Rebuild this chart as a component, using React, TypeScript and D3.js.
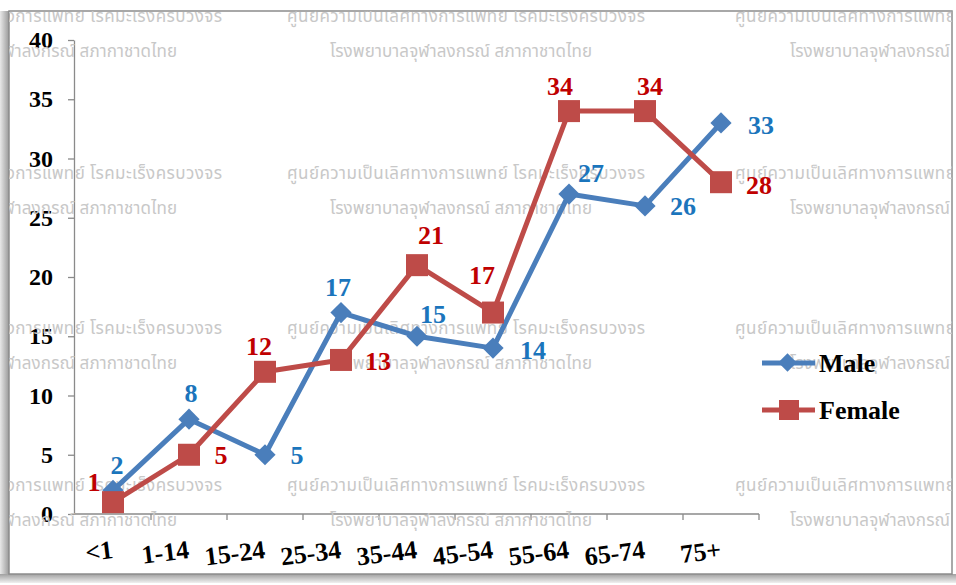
import { useEffect, useRef } from "react";
import * as d3 from "d3";

const categories = ["<1", "1-14", "15-24", "25-34", "35-44", "45-54", "55-64", "65-74", "75+"];
const maleValues = [2, 8, 5, 17, 15, 14, 27, 26, 33];
const femaleValues = [1, 5, 12, 13, 21, 17, 34, 34, 28];
const yTicks = [0, 5, 10, 15, 20, 25, 30, 35, 40];

// label offsets from the point (centre of text), as Excel placed them
const maleLabelOffsets = [[4, -25], [2, -26], [32, 1], [-3, -25], [16, -22], [40, 2], [22, -21], [38, 1], [40, 3]];
const femaleLabelOffsets = [[-19, -20], [32, 1], [-6, -25], [37, 2], [14, -30], [-11, -37], [-9, -25], [5, -25], [38, 3]];

const wmLine1 = "ศูนย์ความเป็นเลิศทางการแพทย์ โรคมะเร็งครบวงจร";
const wmLine2 = "โรงพยาบาลจุฬาลงกรณ์ สภากาชาดไทย";
const wmRows = [22, 179, 334, 491];

const W = 956;
const H = 585;
const MALE = "#4a7ebb";
const FEMALE = "#be4b48";
const MALE_TXT = "#1b75bc";
const FEMALE_TXT = "#c00000";
const FONT = "'Liberation Serif', 'Times New Roman', serif";

function YAxis({ scale, x }: { scale: d3.ScaleLinear<number, number>; x: number }) {
  const ref = useRef<SVGGElement>(null);
  useEffect(() => {
    if (!ref.current) return;
    const g = d3.select(ref.current);
    g.call(d3.axisLeft(scale).tickValues(yTicks).tickSize(6).tickPadding(15).tickSizeOuter(0));
    g.select(".domain").attr("stroke", "#8a8a8a").attr("stroke-width", 1.3);
    g.selectAll(".tick line").attr("stroke", "#8a8a8a").attr("stroke-width", 1.3);
    g.selectAll(".tick text")
      .attr("font-family", FONT)
      .attr("font-weight", "bold")
      .attr("font-size", 24)
      .attr("fill", "#000");
  }, [scale]);
  return <g ref={ref} transform={`translate(${x},0)`} />;
}

export default function App() {
  const x = d3.scaleBand<string>().domain(categories).range([75, 759]);
  const y = d3.scaleLinear().domain([0, 40]).range([514, 40]);
  const cx = (i: number) => (x(categories[i]) as number) + x.bandwidth() / 2;

  const line = d3
    .line<number>()
    .x((_, i) => cx(i))
    .y((d) => y(d));

  const edges = categories.map((c) => (x(c) as number) + x.bandwidth());

  return (
    <svg
      width={W}
      height={H}
      style={{ position: "absolute", left: 0, top: 0, background: "#fff" }}
    >
      <defs>
        <linearGradient id="shL" x1="0" x2="1" y1="0" y2="0">
          <stop offset="0" stopColor="#e8e8e8" />
          <stop offset="1" stopColor="#9a9a9a" />
        </linearGradient>
        <linearGradient id="shB" x1="0" x2="0" y1="0" y2="1">
          <stop offset="0" stopColor="#a0a0a0" />
          <stop offset="1" stopColor="#f0f0f0" />
        </linearGradient>
        <clipPath id="frame">
          <rect x={9} y={11} width={943} height={563} />
        </clipPath>
      </defs>

      {/* frame + shadow */}
      <rect x={0} y={11} width={9} height={566} fill="url(#shL)" />
      <rect x={0} y={574} width={956} height={9} fill="url(#shB)" />
      <rect x={9} y={11} width={943} height={563} fill="#fff" stroke="#8c8c8c" strokeWidth={1.5} />

      <YAxis scale={y} x={74} />

      {/* x axis */}
      <g>
        <line x1={74} x2={759} y1={514} y2={514} stroke="#8a8a8a" strokeWidth={1.3} />
        {edges.map((e, i) => (
          <line key={`t${i}`} x1={e} x2={e} y1={514} y2={520} stroke="#8a8a8a" strokeWidth={1.3} />
        ))}
        {categories.map((c, i) => (
          <text
            key={c}
            transform={`translate(${cx(i) + 1},558) rotate(-7)`}
            textAnchor="end"
            fontFamily={FONT}
            fontWeight="bold"
            fontSize={26}
            fill="#000"
          >
            {c}
          </text>
        ))}
      </g>

      {/* watermark */}
      <g clipPath="url(#frame)" fontFamily="'Noto Sans Thai', 'Noto Sans', 'DejaVu Sans', sans-serif" fontSize={17} fill="#c8c8c8">
        {wmRows.map((r) => (
          <g key={r}>
            <text x={222} y={r} textAnchor="end" textLength={358}>{wmLine1}</text>
            <text x={287} y={r} textLength={358}>{wmLine1}</text>
            <text x={735} y={r} textLength={358}>{wmLine1}</text>
            <text x={177} y={r + 35} textAnchor="end" textLength={262}>{wmLine2}</text>
            <text x={330} y={r + 35} textLength={262}>{wmLine2}</text>
            <text x={790} y={r + 35} textLength={262}>{wmLine2}</text>
          </g>
        ))}
      </g>

      {/* series */}
      <path d={line(maleValues) as string} fill="none" stroke={MALE} strokeWidth={5} strokeLinejoin="round" />
      {maleValues.map((v, i) => (
        <rect
          key={`m${i}`}
          x={cx(i) - 7.5}
          y={y(v) - 7.5}
          width={15}
          height={15}
          fill={MALE}
          transform={`rotate(45,${cx(i)},${y(v)})`}
        />
      ))}
      <path d={line(femaleValues) as string} fill="none" stroke={FEMALE} strokeWidth={5} strokeLinejoin="round" />
      {femaleValues.map((v, i) => (
        <rect key={`f${i}`} x={cx(i) - 11} y={y(v) - 11} width={22} height={22} fill={FEMALE} />
      ))}

      {/* data labels */}
      <g fontFamily={FONT} fontWeight="bold" fontSize={26} textAnchor="middle" dominantBaseline="central">
        {maleValues.map((v, i) => (
          <text key={`ml${i}`} x={cx(i) + maleLabelOffsets[i][0]} y={y(v) + maleLabelOffsets[i][1]} fill={MALE_TXT}>
            {v}
          </text>
        ))}
        {femaleValues.map((v, i) => (
          <text key={`fl${i}`} x={cx(i) + femaleLabelOffsets[i][0]} y={y(v) + femaleLabelOffsets[i][1]} fill={FEMALE_TXT}>
            {v}
          </text>
        ))}
      </g>

      {/* legend */}
      <g fontFamily={FONT} fontWeight="bold" fontSize={26} fill="#000">
        <line x1={762} x2={815} y1={363} y2={363} stroke={MALE} strokeWidth={5} />
        <rect x={781} y={356} width={13} height={13} fill={MALE} transform="rotate(45,787.5,362.5)" />
        <text x={819} y={363} dominantBaseline="central">Male</text>
        <line x1={762} x2={815} y1={410} y2={410} stroke={FEMALE} strokeWidth={5} />
        <rect x={779} y={400} width={20} height={20} fill={FEMALE} />
        <text x={819} y={410} dominantBaseline="central">Female</text>
      </g>
    </svg>
  );
}
